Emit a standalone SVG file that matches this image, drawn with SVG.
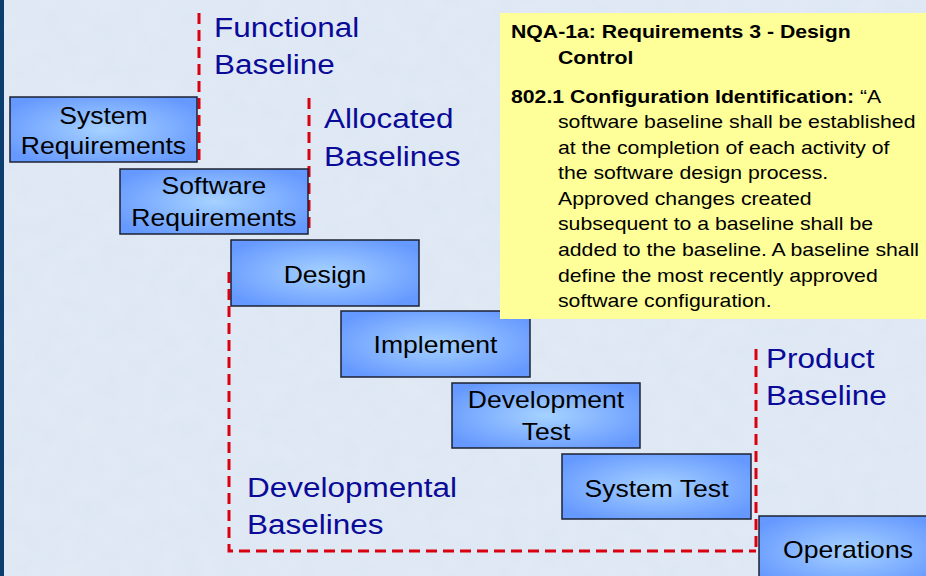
<svg xmlns="http://www.w3.org/2000/svg" width="926" height="576" viewBox="0 0 926 576">
<defs>
<radialGradient id="boxg" cx="0.5" cy="0.5" r="0.6">
<stop offset="0" stop-color="#a6d2ff"/>
<stop offset="1" stop-color="#6699ff"/>
</radialGradient>
<filter id="tex" x="0" y="0" width="1" height="1">
<feTurbulence type="fractalNoise" baseFrequency="0.05" numOctaves="3" seed="3"/>
<feColorMatrix type="matrix" values="0 0 0 0 0.86  0 0 0 0 0.9  0 0 0 0 0.95  0 0 0 0.35 0"/>
</filter>
</defs>
<style>
.box{fill:url(#boxg);stroke:#1c2233;stroke-width:1.5}
.bt{font-family:"Liberation Sans",Arial,sans-serif;font-size:23px;fill:#000;text-anchor:middle;transform-box:fill-box;transform-origin:center;transform:scaleX(1.155)}
.lbl{font-family:"Liberation Sans",Arial,sans-serif;font-size:28px;fill:#0a0a99;transform-box:fill-box;transform-origin:left;transform:scaleX(1.125)}
.dash{fill:none;stroke:#d90010;stroke-width:3;stroke-dasharray:11 6}
.nt{font-family:"Liberation Sans",Arial,sans-serif;font-size:18px;fill:#000;transform-box:fill-box;transform-origin:left;transform:scaleX(1.18)}
.b{font-weight:bold}
</style>
<rect x="0" y="0" width="926" height="576" fill="#dde7f3"/>
<rect x="0" y="0" width="926" height="576" filter="url(#tex)" opacity="0.6"/>
<rect x="0" y="0" width="4" height="576" fill="#0b3d6e"/>
<g id="connectors">
<path class="dash" d="M199,13 V160"/>
<path class="dash" d="M309,98 V230"/>
<path class="dash" d="M229,272 V551 H756"/>
<path class="dash" d="M756,349 V551"/>
</g>
<g id="labels">
<text class="lbl" x="214" y="37">Functional</text>
<text class="lbl" x="214" y="74">Baseline</text>
<text class="lbl" x="324" y="128">Allocated</text>
<text class="lbl" x="324" y="166">Baselines</text>
<text class="lbl" x="766" y="368">Product</text>
<text class="lbl" x="766" y="405">Baseline</text>
<text class="lbl" x="247" y="497">Developmental</text>
<text class="lbl" x="247" y="534">Baselines</text>
</g>
<g id="sysreq">
<rect class="box" x="10" y="97" width="187" height="65"/>
<text class="bt" x="103.5" y="124">System</text>
<text class="bt" x="103.5" y="154">Requirements</text>
</g>
<g id="swreq">
<rect class="box" x="120" y="169" width="188" height="65"/>
<text class="bt" x="214" y="194">Software</text>
<text class="bt" x="214" y="226">Requirements</text>
</g>
<g id="design">
<rect class="box" x="231" y="240" width="188" height="66"/>
<text class="bt" x="325" y="283">Design</text>
</g>
<g id="implement">
<rect class="box" x="341" y="311" width="189" height="66"/>
<text class="bt" x="435.5" y="353">Implement</text>
</g>
<g id="devtest">
<rect class="box" x="452" y="383" width="188" height="65"/>
<text class="bt" x="546" y="408">Development</text>
<text class="bt" x="546" y="440">Test</text>
</g>
<g id="systest">
<rect class="box" x="562" y="454" width="189" height="65"/>
<text class="bt" x="656.5" y="497">System Test</text>
</g>
<g id="operations">
<rect class="box" x="759" y="516" width="180" height="70"/>
<text class="bt" x="848" y="558">Operations</text>
</g>
<g id="note">
<rect x="500" y="13" width="426" height="306" fill="#ffff99"/>
<text class="nt b" x="511" y="38">NQA-1a: Requirements 3 - Design</text>
<text class="nt b" x="558" y="64">Control</text>
<text class="nt" x="511" y="103"><tspan class="b">802.1 Configuration Identification:</tspan> “A</text>
<text class="nt" x="558" y="128">software baseline shall be established</text>
<text class="nt" x="558" y="154">at the completion of each activity of</text>
<text class="nt" x="558" y="179">the software design process.</text>
<text class="nt" x="558" y="205">Approved changes created</text>
<text class="nt" x="558" y="230">subsequent to a baseline shall be</text>
<text class="nt" x="558" y="256">added to the baseline. A baseline shall</text>
<text class="nt" x="558" y="282">define the most recently approved</text>
<text class="nt" x="558" y="307">software configuration.</text>
</g>
</svg>
